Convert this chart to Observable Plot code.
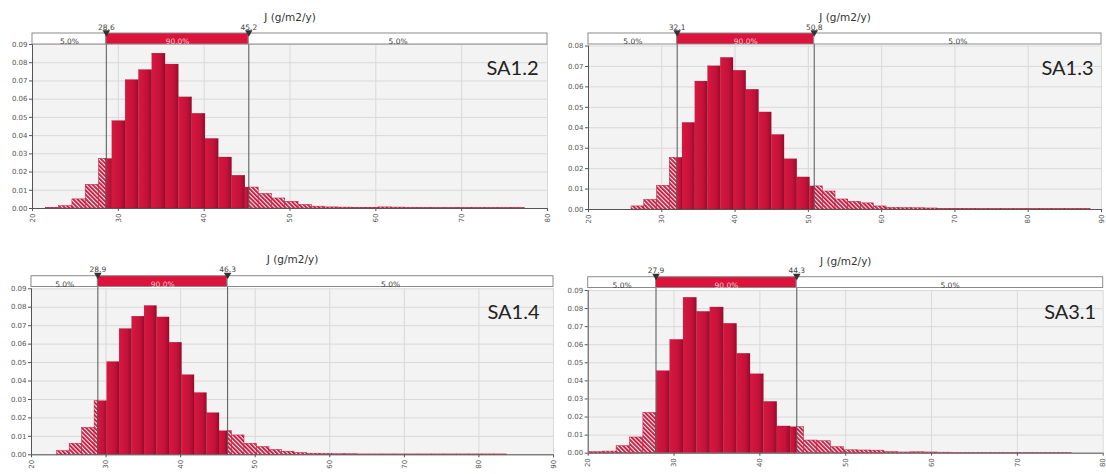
<!DOCTYPE html>
<html><head><meta charset="utf-8">
<script src="https://cdn.jsdelivr.net/npm/d3@7"></script>
<script src="https://cdn.jsdelivr.net/npm/@observablehq/plot@0.6"></script>
<style>
body{margin:0;background:#fff;}
#wrap{position:relative;width:1106px;height:474px;background:#fff;overflow:hidden;}
#wrap svg{position:absolute;overflow:visible;}
</style></head><body><div id="wrap"></div>
<script>
// ---- data ----
const panelNames = ["SA1.2", "SA1.3", "SA1.4", "SA3.1"];
const axisTitle = "J (g/m2/y)";
const xMin = [20, 20, 20, 20];
const xMax = [80, 90, 90, 80];
const yMax = [0.09, 0.08, 0.09, 0.09];
const binStart = [21.55, 25.87, 23.44, 20.19];
const binWidth = [1.55, 1.74, 1.675, 1.56];
const p5 = [28.6, 32.1, 28.9, 27.9];
const p95 = [45.2, 50.8, 46.3, 44.3];
const bandTexts = ["5.0%", "90.0%", "5.0%"];
const densSA12 = [0.0004, 0.0013, 0.0050, 0.0130, 0.0272, 0.0480, 0.0705, 0.0760, 0.0850, 0.0790, 0.0610, 0.0520, 0.0382, 0.0280, 0.0180, 0.0115, 0.0080, 0.0055, 0.0037, 0.0020, 0.0010, 0.0006, 0.0005, 0.0004, 0.0004, 0.0006, 0.0005, 0.0003, 0.0003, 0.0002, 0.0002, 0.0002, 0.0002, 0.0002, 0.0002, 0.0002];
const densSA13 = [0.0015, 0.0047, 0.0116, 0.0253, 0.0424, 0.0626, 0.0701, 0.0742, 0.0679, 0.0586, 0.0475, 0.0365, 0.0246, 0.0157, 0.0113, 0.0088, 0.0049, 0.0038, 0.0030, 0.0015, 0.0008, 0.0007, 0.0006, 0.0005, 0.0003, 0.0003, 0.0003, 0.0002, 0.0002, 0.0002, 0.0002, 0.0002, 0.0002, 0.0002, 0.0002, 0.0002];
const densSA14 = [0.0020, 0.0060, 0.0146, 0.0291, 0.0503, 0.0682, 0.0749, 0.0807, 0.0745, 0.0608, 0.0432, 0.0335, 0.0226, 0.0128, 0.0105, 0.0060, 0.0042, 0.0026, 0.0017, 0.0010, 0.0006, 0.0005, 0.0003, 0.0003, 0.0002, 0.0002, 0.0002, 0.0002, 0.0002, 0.0002, 0.0002, 0.0002, 0.0002, 0.0002, 0.0002, 0.0002];
const densSA31 = [0.0006, 0.0009, 0.0039, 0.0087, 0.0223, 0.0454, 0.0627, 0.0860, 0.0782, 0.0806, 0.0716, 0.0550, 0.0437, 0.0284, 0.0148, 0.0144, 0.0070, 0.0066, 0.0033, 0.0016, 0.0015, 0.0014, 0.0006, 0.0004, 0.0005, 0.0004, 0.0003, 0.0002, 0.0002, 0.0002, 0.0002, 0.0002, 0.0002, 0.0002, 0.0002, 0.0002];
const densities = [densSA12, densSA13, densSA14, densSA31];

// ---- layout (pixels) ----
const W = 553, H = 237;
const layout = [
  {left: 0,   top: 0,   mL: 32,   mR: 6,   mT: 44,   mB: 29,   bandTop: 33,   bandBot: 44,   titleY: 13.5, labY: 23.8, triY: 32,   lblDx: -9,  lblDy: 16},
  {left: 553, top: 0,   mL: 35,   mR: 5,   mT: 45.5, mB: 28,   bandTop: 33,   bandBot: 44,   titleY: 13.5, labY: 23.8, triY: 32,   lblDx: -8,  lblDy: 15},
  {left: 0,   top: 237, mL: 31,   mR: 0,   mT: 51.3, mB: 19.7, bandTop: 38.7, bandBot: 49.5, titleY: 18,   labY: 29.5, triY: 37.5, lblDx: -14, lblDy: 16},
  {left: 553, top: 237, mL: 34.7, mR: 3.3, mT: 53,   mB: 21.3, bandTop: 39.7, bandBot: 50.5, titleY: 19.7, labY: 30.3, triY: 38.5, lblDx: -7,  lblDy: 14}
];

function segments(p) {
  const out = [];
  const lo = p5[p], hi = p95[p];
  densities[p].forEach((v, k) => {
    const a = binStart[p] + k * binWidth[p], b = a + binWidth[p];
    const cuts = [a, ...[lo, hi].filter(c => c > a && c < b), b];
    for (let i = 0; i < cuts.length - 1; i++) {
      const m = (cuts[i] + cuts[i + 1]) / 2;
      out.push({a: cuts[i], b: cuts[i + 1], v, tail: m < lo || m > hi});
    }
  });
  return out;
}

const defsMark = (id) => () => {
  const d = d3.create("svg:defs");
  const g = d.append("linearGradient").attr("id", "grad" + id)
    .attr("x1", 0).attr("x2", 1).attr("y1", 0).attr("y2", 0);
  g.append("stop").attr("offset", "0%").attr("stop-color", "#d8173f");
  g.append("stop").attr("offset", "65%").attr("stop-color", "#c3123a");
  g.append("stop").attr("offset", "100%").attr("stop-color", "#980c2a");
  const pt = d.append("pattern").attr("id", "hatch" + id)
    .attr("patternUnits", "userSpaceOnUse").attr("width", 3).attr("height", 3)
    .attr("patternTransform", "rotate(-45)");
  pt.append("rect").attr("width", 3).attr("height", 3).attr("fill", "#fbe9ec");
  pt.append("rect").attr("width", 1.8).attr("height", 3).attr("fill", "#c0143a");
  return d.node();
};

const wrap = document.getElementById("wrap");

for (let p = 0; p < 4; p++) {
  const L = layout[p];
  const segs = segments(p);
  const xTicks = d3.range(xMin[p], xMax[p] + 1, 10);
  const yTicks = d3.range(0, Math.round(yMax[p] * 100) + 1).map(i => i / 100);
  const lo = p5[p], hi = p95[p];
  const band = [
    {x1: xMin[p], x2: lo, t: bandTexts[0]},
    {x1: lo, x2: hi, t: bandTexts[1]},
    {x1: hi, x2: xMax[p], t: bandTexts[2]}
  ];
  const bandInsetTop = L.bandTop - L.mT;
  const bandInsetBottom = H - L.mB - L.bandBot;

  const chart = Plot.plot({
    width: W, height: H,
    marginLeft: L.mL, marginRight: L.mR, marginTop: L.mT, marginBottom: L.mB,
    style: {fontFamily: "DejaVu Sans, sans-serif", fontSize: "7px", color: "#444", background: "transparent", overflow: "visible"},
    x: {domain: [xMin[p], xMax[p]]},
    y: {domain: [0, yMax[p]]},
    marks: [
      defsMark(p),
      Plot.frame({fill: "#f3f3f3", stroke: null}),
      Plot.gridX({ticks: xTicks, stroke: "#d9d9d9", strokeOpacity: 1}),
      Plot.gridY({ticks: yTicks, stroke: "#d9d9d9", strokeOpacity: 1}),
      Plot.rect(segs.filter(d => d.tail), {x1: "a", x2: "b", y1: 0, y2: "v", fill: `url(#hatch${p})`, stroke: "#c0143a", strokeWidth: 0.5}),
      Plot.rect(segs.filter(d => !d.tail), {x1: "a", x2: "b", y1: 0, y2: "v", fill: `url(#grad${p})`, stroke: "#8a0b24", strokeWidth: 0.3, strokeOpacity: 0.6}),
      Plot.ruleX([lo, hi], {stroke: "#555", strokeWidth: 1, insetTop: bandInsetTop}),
      Plot.ruleY([0], {stroke: "#555"}),
      Plot.ruleX([xMin[p]], {stroke: "#555"}),
      Plot.axisX({ticks: xTicks, tickRotate: -90, tickSize: 3, tickPadding: 2, label: null, color: "#555"}),
      Plot.axisY({ticks: yTicks, tickFormat: d3.format(".2f"), tickSize: 3, tickPadding: 2, label: null, color: "#555"}),
      Plot.rect(band, {x1: "x1", x2: "x2", fill: (d, i) => i === 1 ? "#dc143c" : "#ffffff", stroke: "#8a8a8a", strokeWidth: 1, insetTop: bandInsetTop, insetBottom: bandInsetBottom}),
      Plot.text(band, {x: d => (d.x1 + d.x2) / 2, text: "t", frameAnchor: "top", dy: (L.bandTop + L.bandBot) / 2 - L.mT, fill: (d, i) => i === 1 ? "#f7c6cf" : "#444", fontSize: 7.5}),
      Plot.dot([lo, hi], {x: d => d, frameAnchor: "top", dy: L.triY - L.mT, symbol: "triangle", rotate: 180, r: 2.8, fill: "#333", stroke: null}),
      Plot.text([lo, hi], {x: d => d, text: d => d.toFixed(1), frameAnchor: "top", dy: L.labY - L.mT, fill: "#444", fontSize: 7.5}),
      Plot.text([axisTitle], {frameAnchor: "top", dy: L.titleY - L.mT, fill: "#333", fontSize: 10.5}),
      Plot.text([panelNames[p]], {frameAnchor: "top-right", textAnchor: "end", dx: L.lblDx, dy: L.lblDy, fill: "#222", fontSize: 20, fontFamily: "Lato, sans-serif"})
    ]
  });
  chart.style.left = L.left + "px";
  chart.style.top = L.top + "px";
  wrap.appendChild(chart);
}
</script>
</body></html>
